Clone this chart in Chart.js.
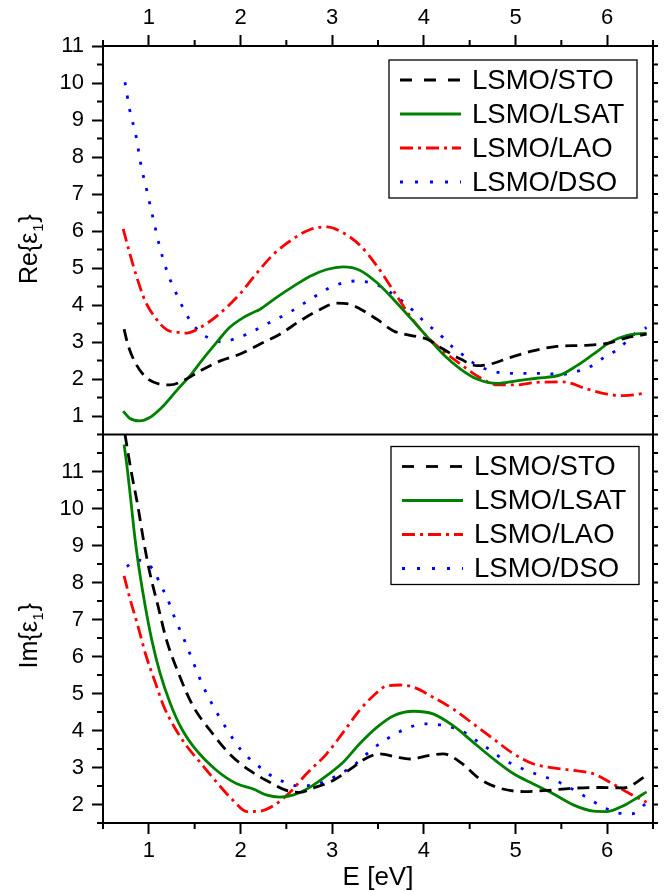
<!DOCTYPE html>
<html>
<head>
<meta charset="utf-8">
<script src="https://cdn.jsdelivr.net/npm/chart.js@4.4.1/dist/chart.umd.min.js"></script>
<style>
  html, body { margin: 0; padding: 0; background: #fff; }
  #wrap { width: 671px; height: 892px; }
</style>
</head>
<body>
<div id="wrap"><canvas id="chart-eps"></canvas></div>
<script>
var seriesNames = ['LSMO/STO', 'LSMO/LSAT', 'LSMO/LAO', 'LSMO/DSO'];
var seriesColors = ['#000000', '#008000', '#ff0000', '#0000ff'];
var xTicks = [1, 2, 3, 4, 5, 6];
var reTicks = [1, 2, 3, 4, 5, 6, 7, 8, 9, 10, 11];
var imTicks = [2, 3, 4, 5, 6, 7, 8, 9, 10, 11];

// Re{eps1}, [E (eV), value]
var reSTO = [[0.73,3.35],[0.77,2.94],[0.85,2.45],[0.97,2.04],[1.12,1.86],[1.23,1.84],[1.37,1.95],[1.56,2.22],
  [1.78,2.49],[1.99,2.67],[2.21,2.94],[2.43,3.21],[2.65,3.57],[2.87,3.88],[3.05,4.05],[3.19,4.02],[3.30,3.90],
  [3.49,3.61],[3.67,3.30],[3.85,3.18],[4.03,3.08],[4.21,2.81],[4.40,2.54],[4.58,2.36],[4.72,2.40],[4.94,2.58],
  [5.19,2.76],[5.45,2.88],[5.74,2.91],[6.00,2.96],[6.22,3.12],[6.43,3.21]];
var reLSAT = [[0.72,1.13],[0.79,0.94],[0.90,0.87],[1.01,0.96],[1.16,1.28],[1.30,1.68],[1.45,2.09],[1.59,2.54],
  [1.74,2.99],[1.88,3.39],[2.03,3.66],[2.14,3.80],[2.21,3.88],[2.39,4.20],[2.58,4.51],[2.76,4.78],[2.94,4.96],
  [3.12,5.03],[3.30,4.94],[3.49,4.60],[3.67,4.15],[3.85,3.66],[4.03,3.16],[4.21,2.67],[4.40,2.27],[4.58,2.00],
  [4.80,1.88],[5.01,1.95],[5.23,2.02],[5.49,2.11],[5.67,2.36],[5.85,2.67],[6.03,2.99],[6.22,3.18],[6.43,3.24]];
var reLAO = [[0.72,6.06],[0.79,5.41],[0.87,4.74],[0.96,4.11],[1.07,3.66],[1.19,3.34],[1.32,3.26],[1.41,3.24],
  [1.56,3.39],[1.74,3.70],[1.99,4.29],[2.18,4.87],[2.36,5.37],[2.54,5.73],[2.76,6.04],[2.94,6.11],[3.12,5.95],
  [3.30,5.62],[3.49,5.05],[3.67,4.38],[3.85,3.70],[4.03,3.16],[4.21,2.76],[4.40,2.40],[4.61,2.04],[4.81,1.84],
  [5.01,1.84],[5.23,1.91],[5.52,1.92],[5.78,1.73],[6.00,1.59],[6.18,1.55],[6.43,1.62]];
var reDSO = [[0.74,10.02],[0.79,9.29],[0.86,8.57],[0.91,7.84],[0.98,7.07],[1.05,6.31],[1.12,5.56],[1.21,4.83],
  [1.32,4.20],[1.43,3.66],[1.56,3.26],[1.70,3.06],[1.81,3.00],[1.94,3.09],[2.07,3.21],[2.28,3.48],[2.54,3.81],
  [2.76,4.15],[3.01,4.51],[3.27,4.65],[3.45,4.58],[3.61,4.38],[3.74,4.15],[3.87,3.88],[3.98,3.61],[4.10,3.35],
  [4.21,3.12],[4.32,2.85],[4.45,2.61],[4.56,2.40],[4.70,2.25],[4.87,2.16],[5.01,2.15],[5.16,2.15],[5.32,2.15],
  [5.49,2.12],[5.63,2.18],[5.80,2.31],[5.94,2.54],[6.09,2.76],[6.22,3.03],[6.32,3.26],[6.43,3.39]];

// Im{eps1}
var imSTO = [[0.74,12.0],[0.81,10.97],[0.88,10.07],[0.94,9.17],[1.01,8.27],[1.10,7.37],[1.19,6.47],[1.32,5.57],
  [1.48,4.67],[1.67,4.00],[1.88,3.37],[2.10,2.92],[2.32,2.60],[2.50,2.38],[2.65,2.33],[2.79,2.44],[3.01,2.65],
  [3.23,3.01],[3.35,3.22],[3.52,3.37],[3.70,3.28],[3.85,3.23],[4.05,3.32],[4.21,3.37],[4.40,3.14],[4.61,2.69],
  [4.83,2.44],[5.09,2.35],[5.34,2.38],[5.63,2.44],[5.92,2.46],[6.18,2.45],[6.43,2.78]];
var imLSAT = [[0.73,11.73],[0.77,10.97],[0.81,10.07],[0.85,9.17],[0.90,8.27],[0.96,7.37],[1.03,6.47],[1.12,5.57],
  [1.23,4.76],[1.36,4.04],[1.52,3.46],[1.74,2.92],[1.96,2.56],[2.14,2.42],[2.28,2.26],[2.43,2.20],[2.58,2.26],
  [2.76,2.47],[2.94,2.78],[3.12,3.14],[3.30,3.64],[3.49,4.09],[3.67,4.40],[3.89,4.52],[4.10,4.45],[4.32,4.13],
  [4.54,3.68],[4.76,3.23],[4.98,2.83],[5.19,2.56],[5.41,2.29],[5.63,1.99],[5.85,1.82],[6.00,1.81],[6.18,1.97],
  [6.32,2.17],[6.43,2.34]];
var imLAO = [[0.73,8.18],[0.79,7.60],[0.88,6.83],[0.97,6.02],[1.07,5.30],[1.16,4.67],[1.27,4.13],[1.41,3.59],
  [1.56,3.14],[1.74,2.60],[1.92,2.11],[2.07,1.81],[2.21,1.82],[2.36,1.97],[2.54,2.33],[2.72,2.83],[2.94,3.37],
  [3.12,3.95],[3.30,4.55],[3.45,4.94],[3.59,5.20],[3.74,5.23],[3.89,5.17],[4.10,4.90],[4.32,4.58],[4.54,4.18],
  [4.76,3.77],[4.98,3.37],[5.19,3.10],[5.41,2.99],[5.63,2.92],[5.85,2.83],[6.03,2.60],[6.22,2.33],[6.43,2.06]];
var imDSO = [[0.76,8.43],[0.87,8.61],[0.98,8.50],[1.07,8.27],[1.12,7.96],[1.19,7.64],[1.28,7.06],[1.39,6.43],
  [1.50,5.75],[1.59,5.21],[1.72,4.58],[1.85,4.04],[2.01,3.46],[2.21,3.01],[2.36,2.74],[2.49,2.60],[2.61,2.51],
  [2.76,2.51],[2.90,2.60],[3.05,2.78],[3.23,3.05],[3.45,3.52],[3.59,3.76],[3.72,3.95],[3.87,4.11],[4.03,4.18],
  [4.18,4.15],[4.34,4.06],[4.47,3.91],[4.60,3.68],[4.72,3.48],[4.85,3.25],[5.00,3.05],[5.14,2.90],[5.29,2.77],
  [5.43,2.65],[5.58,2.47],[5.71,2.29],[5.83,2.11],[5.98,1.90],[6.12,1.77],[6.27,1.75],[6.42,2.02]];

var FONT = '"Liberation Sans", Arial, sans-serif';
Chart.defaults.font.family = FONT;
Chart.defaults.color = '#000';

var lineDash = [[12, 7], [], [13, 5, 3, 5], [3, 10.5]];
var legendDash = [[12, 12], [], [13, 5, 3, 5], [3, 12]];

function makeSet(i, pts, axis) {
  return {
    label: seriesNames[i],
    data: pts.map(p => ({x: p[0], y: p[1]})),
    yAxisID: axis,
    borderColor: seriesColors[i],
    borderWidth: 2.8,
    borderDash: lineDash[i],
    legendDash: legendDash[i],
    pointRadius: 0,
    fill: false,
    cubicInterpolationMode: 'monotone'
  };
}

function xAxis(pos, h, showTitle) {
  return {
    type: 'linear', position: pos, min: 0.5, max: 6.5,
    afterBuildTicks: s => { s.ticks = xTicks.map(v => ({value: v})); },
    afterFit: s => { s.height = h; },
    grid: {drawOnChartArea: false, tickLength: 11, tickWidth: 2, tickColor: '#000'},
    border: {color: '#000', width: 2},
    ticks: {font: {size: 22}, color: '#000', padding: 4, maxRotation: 0, autoSkip: false},
    title: {display: showTitle, text: 'E [eV]', font: {size: 26, lineHeight: 1.1}, color: '#000', padding: 0}
  };
}

function yAxis(min, max, ticks) {
  return {
    type: 'linear', position: 'left', stack: 'panels', stackWeight: 1, min: min, max: max,
    afterBuildTicks: s => { s.ticks = ticks.map(v => ({value: v})); },
    afterFit: s => { s.width = 103; },
    grid: {drawOnChartArea: false, tickLength: 11, tickWidth: 2, tickColor: '#000'},
    border: {color: '#000', width: 2},
    ticks: {font: {size: 22}, color: '#000', padding: 8, autoSkip: false}
  };
}

function drawRotTitle(ctx, cx, cy, head, sub, tail) {
  ctx.save();
  ctx.translate(cx, cy);
  ctx.rotate(-Math.PI / 2);
  var big = '25px ' + FONT, small = '14px ' + FONT;
  ctx.font = big;
  var w1 = ctx.measureText(head).width, w3 = ctx.measureText(tail).width;
  ctx.font = small;
  var w2 = ctx.measureText(sub).width;
  var x0 = -(w1 + w2 + w3) / 2;
  ctx.fillStyle = '#000';
  ctx.textBaseline = 'alphabetic';
  ctx.font = big; ctx.fillText(head, x0, 9);
  ctx.font = small; ctx.fillText(sub, x0 + w1 + 1, 15);
  ctx.font = big; ctx.fillText(tail, x0 + w1 + w2 + 2, 9);
  ctx.restore();
}

function drawLegend(ctx, left, top, sets) {
  ctx.save();
  ctx.fillStyle = '#fff';
  ctx.fillRect(left, top, 248, 138);
  ctx.strokeStyle = '#000';
  ctx.lineWidth = 1.3;
  ctx.setLineDash([]);
  ctx.strokeRect(left, top, 248, 138);
  sets.forEach((ds, i) => {
    var y = top + 20 + i * 34;
    ctx.beginPath();
    ctx.setLineDash(ds.legendDash);
    ctx.strokeStyle = ds.borderColor;
    ctx.lineWidth = ds.borderWidth;
    ctx.moveTo(left + 11, y);
    ctx.lineTo(left + 72, y);
    ctx.stroke();
    ctx.setLineDash([]);
    ctx.fillStyle = '#000';
    ctx.font = '27.5px ' + FONT;
    ctx.textBaseline = 'middle';
    ctx.fillText(ds.label, left + 83, y + 1);
  });
  ctx.restore();
}

var panelPlugin = {
  id: 'panels',
  beforeDatasetDraw(chart, args) {
    var a = chart.chartArea, ys = args.meta.yScale, ctx = chart.ctx;
    ctx.save();
    ctx.beginPath();
    ctx.rect(a.left, ys.top, a.right - a.left, ys.bottom - ys.top);
    ctx.clip();
  },
  afterDatasetDraw(chart) {
    chart.ctx.restore();
  },
  afterDraw(chart) {
    var ctx = chart.ctx, a = chart.chartArea, s = chart.scales;
    ctx.save();
    ctx.strokeStyle = '#000';
    ctx.lineWidth = 2;
    ctx.beginPath();
    ctx.moveTo(a.right, a.top - 1);
    ctx.lineTo(a.right, a.bottom + 1);
    ctx.moveTo(a.left - 1, s.yRe.bottom);
    ctx.lineTo(a.right + 1, s.yRe.bottom);
    // minor ticks on x axes
    for (var v = 0.5; v <= 6.5; v += 1) {
      var px = s.x.getPixelForValue(v);
      ctx.moveTo(px, a.bottom); ctx.lineTo(px, a.bottom + 6);
      ctx.moveTo(px, a.top); ctx.lineTo(px, a.top - 6);
    }
    // minor ticks on left, all ticks on right
    ['yRe', 'yIm'].forEach(id => {
      var sc = s[id];
      for (var w = sc.min; w <= sc.max + 1e-9; w += 0.5) {
        var py = sc.getPixelForValue(w);
        if (w % 1 !== 0) { ctx.moveTo(a.left, py); ctx.lineTo(a.left - 6, py); }
        ctx.moveTo(a.right, py); ctx.lineTo(a.right + 5, py);
      }
    });
    ctx.stroke();
    ctx.restore();

    var sets = chart.data.datasets;
    drawLegend(ctx, a.right - 264, s.yRe.top + 14, sets.filter(d => d.yAxisID === 'yRe'));
    drawLegend(ctx, a.right - 262, s.yIm.top + 12, sets.filter(d => d.yAxisID === 'yIm'));

    drawRotTitle(ctx, 28, (s.yRe.top + s.yRe.bottom) / 2 + 10, 'Re{\u03b5', '1', '}');
    drawRotTitle(ctx, 28, (s.yIm.top + s.yIm.bottom) / 2 + 8, 'Im{\u03b5', '1', '}');
  }
};

var ctx = document.getElementById('chart-eps').getContext('2d');
var epsChart = new Chart(ctx, {
  type: 'line',
  data: {
    datasets: [
      makeSet(0, reSTO, 'yRe'), makeSet(1, reLSAT, 'yRe'), makeSet(2, reLAO, 'yRe'), makeSet(3, reDSO, 'yRe'),
      makeSet(0, imSTO, 'yIm'), makeSet(1, imLSAT, 'yIm'), makeSet(2, imLAO, 'yIm'), makeSet(3, imDSO, 'yIm')
    ]
  },
  options: {
    responsive: true,
    maintainAspectRatio: false,
    animation: false,
    layout: {padding: {left: 0, right: 18, top: 0, bottom: 0}},
    plugins: {legend: {display: false}, tooltip: {enabled: false}},
    scales: {
      x: xAxis('bottom', 69, true),
      x2: xAxis('top', 46, false),
      yIm: yAxis(1.5, 12, imTicks),
      yRe: yAxis(0.5, 11, reTicks)
    }
  },
  plugins: [panelPlugin]
});
</script>
</body>
</html>
